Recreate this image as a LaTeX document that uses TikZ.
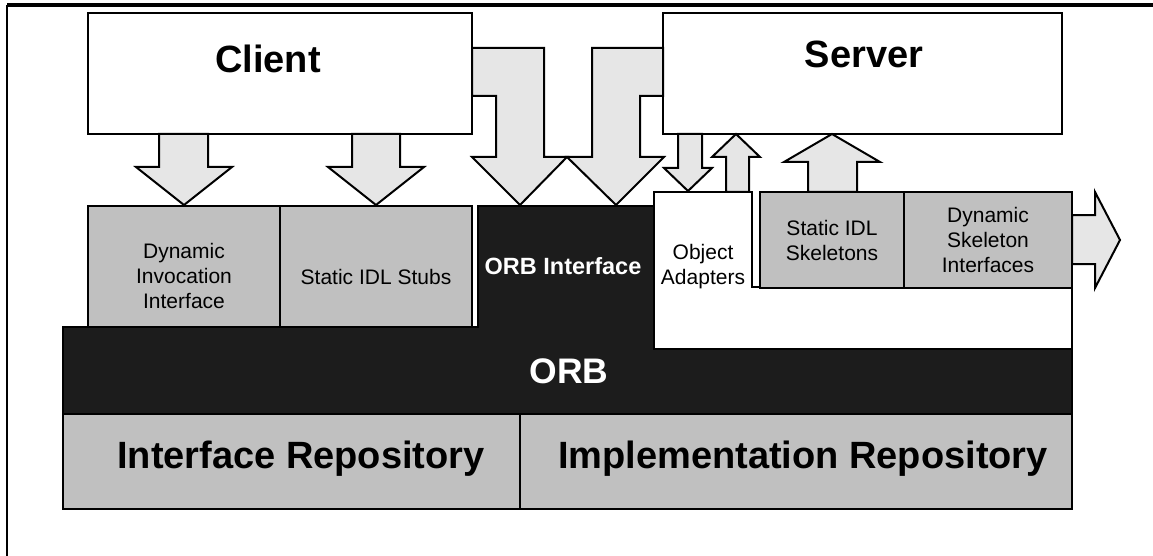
\documentclass[tikz,border=0pt]{standalone}
\usepackage{fontspec}
\setmainfont{Liberation Sans}
\definecolor{boxgray}{HTML}{C0C0C0}
\definecolor{arrowgray}{HTML}{E6E6E6}
\definecolor{orbblack}{HTML}{1C1C1C}
\begin{document}
\begin{tikzpicture}[x=1pt,y=-1pt,
  every node/.style={inner sep=0pt, outer sep=0pt},
  outline/.style={draw=black, line width=2pt, line join=miter},
  whitebox/.style={outline, fill=white, rectangle, anchor=north west},
  graybox/.style={outline, fill=boxgray, rectangle, anchor=north west},
  blockarrow/.style={outline, fill=arrowgray},
  smalltext/.style={font=\fontsize{21}{25}\selectfont, align=center, anchor=base, text=black},
  bigtext/.style={font=\bfseries\fontsize{38}{44}\selectfont, anchor=base, text=black},
]
\useasboundingbox (0,0) rectangle (1153,556);

% frame
\coordinate (ftl) at (7,5);
\coordinate (ftr) at (1153,5);
\coordinate (fbl) at (7,556);
\draw[line width=3.2pt] (ftl) -- (ftr);
\draw[line width=2pt] (ftl) -- (fbl);

% client / server
\node[whitebox, minimum width=384pt, minimum height=121pt] (client) at (88,13) {};
\node[whitebox, minimum width=399pt, minimum height=121pt] (server) at (663,13) {};
\node[bigtext] (clientlbl) at (268,72.5) {Client};
\node[bigtext] (serverlbl) at (864,67.5) {Server};

% block arrows from client
\draw[blockarrow] (159,134) -- (208,134) -- (208,167) -- (232,167) -- (184,205) -- (136,167) -- (159,167) -- cycle;
\draw[blockarrow] (352,134) -- (400,134) -- (400,167) -- (424,167) -- (376,205) -- (328,167) -- (352,167) -- cycle;
\draw[blockarrow] (472,48) -- (544,48) -- (544,157) -- (567,157) -- (520,205) -- (472,157) -- (496,157) -- (496,96) -- (472,96) -- cycle;
% block arrows from/to server
\draw[blockarrow] (663,48) -- (592,48) -- (592,157) -- (567,157) -- (616,205) -- (664,157) -- (640,157) -- (640,96) -- (663,96) -- cycle;
\draw[blockarrow] (678,134) -- (702,134) -- (702,168) -- (712,168) -- (688,191) -- (664,168) -- (678,168) -- cycle;
\draw[blockarrow] (726,192) -- (749,192) -- (749,157) -- (760,157) -- (736,134) -- (712,157) -- (726,157) -- cycle;
\draw[blockarrow] (808,192) -- (857,192) -- (857,162) -- (880,162) -- (832,134) -- (784,162) -- (808,162) -- cycle;

% client side stubs
\node[graybox, minimum width=192pt, minimum height=121pt] (dii) at (88,206) {};
\node[graybox, minimum width=192pt, minimum height=121pt] (stubs) at (280,206) {};
\node[smalltext] (diilbl) at (184,308) {Dynamic\\Invocation\\Interface};
\node[smalltext] (stubslbl) at (376,284) {Static IDL Stubs};

% ORB (black) with ORB interface
\draw[outline, fill=orbblack] (63,327) -- (478,327) -- (478,206) -- (654,206) -- (654,349) -- (1072,349) -- (1072,414) -- (63,414) -- cycle;
\node[font=\bfseries\fontsize{23.5}{28}\selectfont, text=white, anchor=base] (orbif) at (563,274) {ORB Interface};
\node[font=\bfseries\fontsize{35.5}{42}\selectfont, text=white, anchor=base] (orb) at (569,383) {ORB};

% object adapters
\draw[outline, fill=white] (654,192) -- (752,192) -- (752,287) -- (1072,287) -- (1072,349) -- (654,349) -- cycle;
\node[smalltext] (oalbl) at (703,284) {Object\\Adapters};

% skeletons
\node[graybox, minimum width=144pt, minimum height=96pt] (skel) at (760,192) {};
\node[graybox, minimum width=168pt, minimum height=96pt] (dsi) at (904,192) {};
\node[smalltext] (skellbl) at (832,260) {Static IDL\\Skeletons};
\node[smalltext] (dsilbl) at (988,272) {Dynamic\\Skeleton\\Interfaces};
\draw[blockarrow] (1072,215) -- (1095,215) -- (1095,192) -- (1120,240) -- (1095,288) -- (1095,264) -- (1072,264) -- cycle;

% repositories
\node[graybox, minimum width=457pt, minimum height=95pt] (ir) at (63,414) {};
\node[graybox, minimum width=552pt, minimum height=95pt] (imr) at (520,414) {};
\node[bigtext] (irlbl) at (301,468) {Interface Repository};
\node[bigtext] (imrlbl) at (803,468) {Implementation Repository};
\end{tikzpicture}
\end{document}
